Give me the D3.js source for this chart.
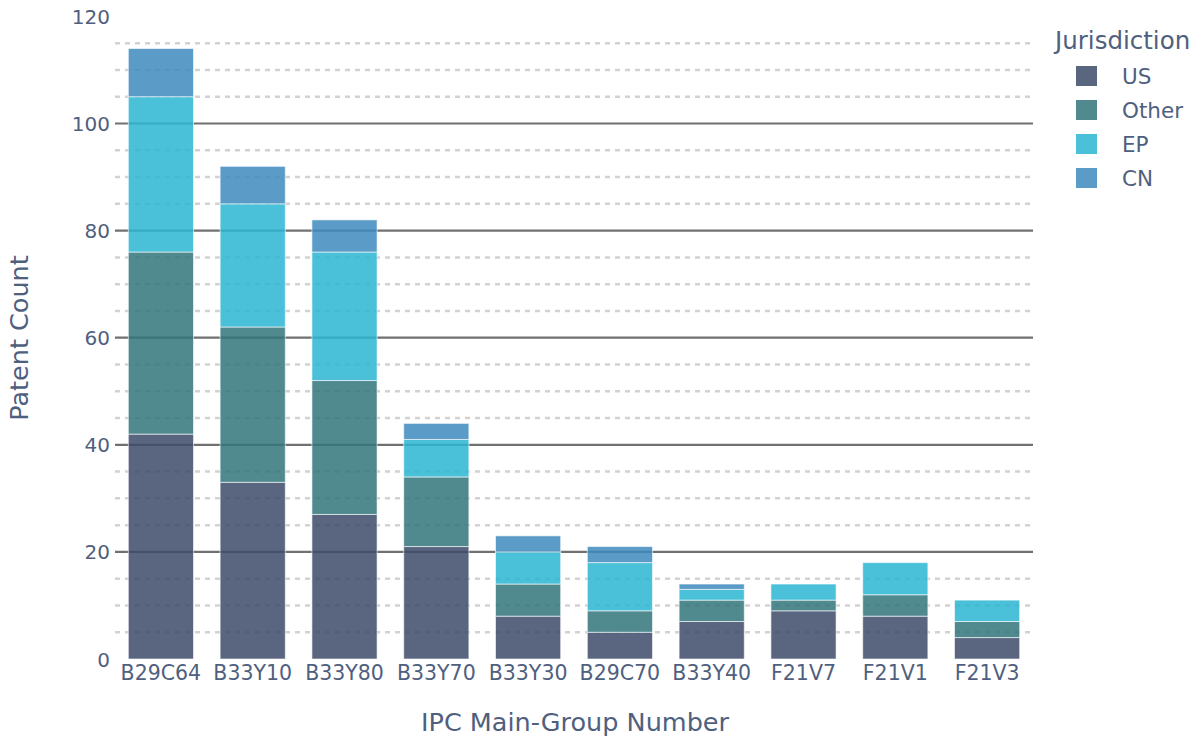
<!DOCTYPE html>
<html><head><meta charset="utf-8">
<script src="https://cdn.jsdelivr.net/npm/d3@7"></script>
<style>
html,body{margin:0;padding:0;background:#fff;}
svg text{font-family:"DejaVu Sans",Verdana,sans-serif;fill:#4f607e;}
</style></head>
<body><svg id="chart" width="1203" height="738"></svg>
<script>
const categories = ["B29C64","B33Y10","B33Y80","B33Y70","B33Y30","B29C70","B33Y40","F21V7","F21V1","F21V3"];
const seriesNames = ["US","Other","EP","CN"];
const usValues    = [42,33,27,21,8,5,7,9,8,4];
const otherValues = [34,29,25,13,6,4,4,2,4,3];
const epValues    = [29,23,24,7,6,9,2,3,6,4];
const cnValues    = [9,7,6,3,3,3,1,0,0,0];
const yTicks = [0,20,40,60,80,100,120];
const yMinor = [5,10,15,25,30,35,45,50,55,65,70,75,85,90,95,105,110,115];
const colors = ["#3d4b6a","#31757b","#2bb6d2","#3e89be"];

const svg = d3.select("#chart");
const pLeft = 115, pRight = 1033, pBottom = 659, pTop = 16.4;
const x = d3.scaleBand().domain(categories).range([pLeft, pRight]).paddingInner(0.29).paddingOuter(0.145);
const y = d3.scaleLinear().domain([0,120]).range([pBottom, pTop]);

// minor grid
svg.append("g").selectAll("line").data(yMinor).join("line")
  .attr("x1", pLeft).attr("x2", pRight + 2)
  .attr("y1", d => y(d)).attr("y2", d => y(d))
  .attr("stroke", "#d2d2d2").attr("stroke-width", 2.5).attr("stroke-dasharray", "5,5");
// major grid
svg.append("g").selectAll("line").data(yTicks.filter(d => d > 0 && d < 120)).join("line")
  .attr("x1", pLeft).attr("x2", pRight)
  .attr("y1", d => y(d)).attr("y2", d => y(d))
  .attr("stroke", "#707070").attr("stroke-width", 2.2);

const rows = categories.map((c,i) => ({cat:c, US:usValues[i], Other:otherValues[i], EP:epValues[i], CN:cnValues[i]}));
const stack = d3.stack().keys(seriesNames)(rows);
svg.append("g").selectAll("g").data(stack).join("g")
  .attr("fill", (d,i) => colors[i])
  .selectAll("rect").data(d => d.filter(p => p[1] - p[0] > 0)).join("rect")
  .attr("x", d => x(d.data.cat))
  .attr("width", x.bandwidth())
  .attr("y", d => y(d[1]))
  .attr("height", d => y(d[0]) - y(d[1]))
  .attr("fill-opacity", 0.85)
  .attr("stroke", "#ffffff").attr("stroke-opacity", 0.6).attr("stroke-width", 1);

// y axis labels
const yAxis = d3.axisLeft(y).tickValues(yTicks).tickSize(0).tickPadding(0);
const yg = svg.append("g").attr("transform", `translate(${pLeft - 5},0)`).call(yAxis);
yg.select(".domain").remove();
yg.selectAll("text").style("font-size", "20px").attr("dy", "0.35em");

// x axis labels
const xAxis = d3.axisBottom(x).tickSize(0).tickPadding(0);
const xg = svg.append("g").attr("transform", `translate(0,${pBottom + 6})`).call(xAxis);
xg.select(".domain").remove();
xg.selectAll("text").style("font-size", "20.5px").attr("dy", "0.72em");

// axis titles
svg.append("text").attr("x", (pLeft + pRight) / 2 + 1).attr("y", 731)
  .attr("text-anchor", "middle").style("font-size", "25.5px").text("IPC Main-Group Number");
svg.append("text").attr("transform", "translate(28,338) rotate(-90)")
  .attr("text-anchor", "middle").style("font-size", "25.5px").text("Patent Count");

// legend
const lg = svg.append("g");
lg.append("text").attr("x", 1055).attr("y", 49).style("font-size", "24.5px").text("Jurisdiction");
seriesNames.forEach((s,i) => {
  const cy = 76 + i * 34;
  lg.append("rect").attr("x", 1076).attr("y", cy - 10).attr("width", 21).attr("height", 20)
    .attr("fill", colors[i]).attr("fill-opacity", 0.85);
  lg.append("text").attr("x", 1122).attr("y", cy).attr("dy", "0.36em")
    .style("font-size", "21.5px").text(s);
});
</script></body></html>
